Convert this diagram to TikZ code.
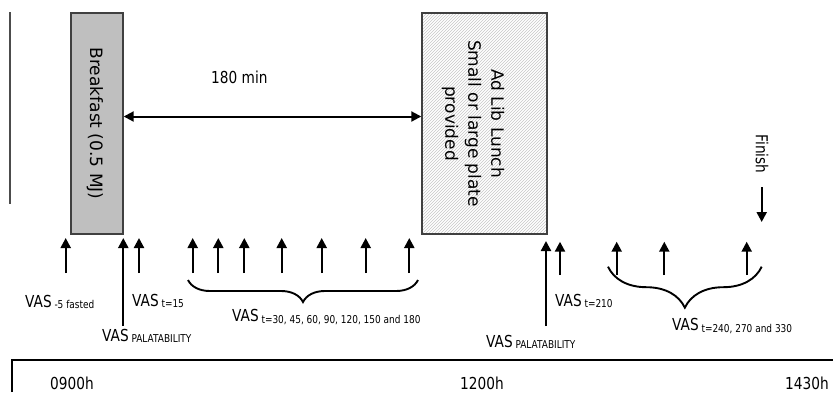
\documentclass[tikz,border=0pt]{standalone}
\usepackage{fontspec}
\setmainfont{DejaVu Sans}
\newfontfamily\labfont{DejaVu Sans}[FakeStretch=0.83]
\usetikzlibrary{arrows.meta,positioning,patterns,decorations.pathreplacing}

\newcommand{\vas}[1]{VAS\,\raisebox{-1.5pt}{\fontsize{10.8}{12}\selectfont #1}}

\begin{document}
\begin{tikzpicture}[x=1pt, y=-1pt, >={Triangle[width=10pt,length=10pt]},
  mealbox/.style={draw=black!75, line width=1.4pt, inner sep=0pt},
  boxtext/.style={rotate=-90, align=center, font=\fontsize{17}{23}\selectfont},
  lab/.style={anchor=west, inner sep=0pt, font=\labfont\fontsize{16.5}{19}\selectfont},
  vasarrow/.style={->, line width=2.2pt},
  bracket/.style={decorate, line width=1.9pt}]

  \useasboundingbox (0,0) rectangle (833,392);

  % Meals
  \node[mealbox, fill=black!25, minimum width=52pt, minimum height=221pt] (bfast) at (97,123.5) {};
  \node[mealbox, pattern=north east lines, pattern color=black!22, minimum width=125pt, minimum height=221pt] (lunch) at (484.5,123.5) {};
  \node[boxtext] (bfasttext) at (95,123.5) {Breakfast (0.5 MJ)};
  \node[boxtext] (lunchtext) at (473,123.5) {Ad Lib Lunch\\Small or large plate\\provided};

  % Time between meals
  \draw[<->, line width=2pt] ([yshift=7pt]bfast.east) -- ([yshift=7pt]lunch.west);
  \node[lab] (gap) at (211,77) {180 min};

  % Left rule
  \coordinate (ruletop) at (10,12);
  \coordinate (rulebot) at (10,204);
  \draw[black!70, line width=1.3pt] (ruletop) -- (rulebot);

  % VAS arrows, morning
  \foreach \x [count=\i] in {65.7,139,192.7,218.3,244.3,281.7,321.7,365.7,409.3} {
    \coordinate (base\i) at (\x,273);
    \coordinate (tip\i) at (\x,238);
    \draw[vasarrow] (base\i) -- (tip\i);
  }
  \coordinate (palbase1) at (123.3,326);
  \coordinate (paltip1) at (123.3,238);
  \draw[vasarrow] (palbase1) -- (paltip1);

  % VAS arrows, afternoon
  \foreach \x [count=\i] in {560,616.7,664.3,746.7} {
    \coordinate (pmbase\i) at (\x,275);
    \coordinate (pmtip\i) at (\x,241.7);
    \draw[vasarrow] (pmbase\i) -- (pmtip\i);
  }
  \coordinate (palbase2) at (546,326);
  \coordinate (paltip2) at (546,241);
  \draw[vasarrow] (palbase2) -- (paltip2);

  % Finish
  \node[lab, rotate=-90, anchor=center] (finish) at (762,154) {Finish};
  \coordinate (fintop) at (761.7,187);
  \coordinate (finbot) at (761.7,222);
  \draw[vasarrow] (fintop) -- (finbot);

  % Braces
  \coordinate (br1a) at (188,280);
  \coordinate (br1b) at (418,280);
  \draw[bracket, decoration={brace, mirror, amplitude=22pt}] (br1a) -- (br1b);
  \coordinate (br2a) at (608,266.7);
  \coordinate (br2b) at (761.7,266.7);
  \draw[bracket, decoration={brace, mirror, amplitude=41pt}] (br2a) -- (br2b);

  % VAS labels
  \node[lab] (vasfast) at (25,302) {\vas{-5 fasted}};
  \node[lab] (vaspal1) at (102,336) {\vas{PALATABILITY}};
  \node[lab] (vas15) at (132,301) {\vas{t=15}};
  \node[lab] (vas30) at (232,317) {\vas{t=30, 45, 60, 90, 120, 150 and 180}};
  \node[lab] (vaspal2) at (486,342) {\vas{PALATABILITY}};
  \node[lab] (vas210) at (555,301) {\vas{t=210}};
  \node[lab] (vas240) at (672,326) {\vas{t=240, 270 and 330}};

  % Time line
  \coordinate (tlcorner) at (12,392);
  \coordinate (tlend) at (833,360);
  \draw[line width=1.8pt] (tlcorner) |- (tlend);
  \node[lab] (t0900) at (50,383) {0900h};
  \node[lab] (t1200) at (460,383) {1200h};
  \node[lab] (t1430) at (785,383) {1430h};
\end{tikzpicture}
\end{document}
